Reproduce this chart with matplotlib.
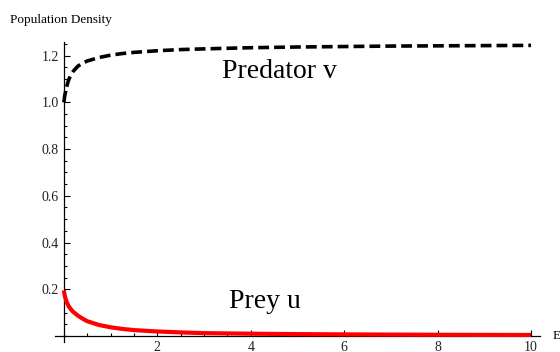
import matplotlib
matplotlib.use("Agg")
import matplotlib.pyplot as plt
from matplotlib.ticker import MultipleLocator, FixedLocator

# values
time = [0, 0.02, 0.05, 0.1, 0.15, 0.2, 0.3, 0.4, 0.5, 0.75, 1.0, 1.25, 1.5, 2.0, 2.5,
        3.0, 4.0, 5.0, 6.0, 7.0, 8.0, 9.0, 10.0]
prey_u = [0.195, 0.172, 0.150, 0.128, 0.114, 0.103, 0.087, 0.074, 0.063, 0.047, 0.037,
          0.030, 0.025, 0.019, 0.015, 0.012, 0.0095, 0.0078, 0.0066, 0.0057, 0.0050,
          0.0045, 0.0041]
predator_v = [1.0, 1.03, 1.06, 1.095, 1.118, 1.133, 1.155, 1.168, 1.177, 1.192, 1.202,
              1.209, 1.214, 1.221, 1.226, 1.229, 1.234, 1.237, 1.239, 1.241, 1.242,
              1.243, 1.244]

y_ticks = [0.2, 0.4, 0.6, 0.8, 1.0, 1.2]
x_ticks = [2, 4, 6, 8, 10]

plt.rcParams["font.family"] = ["Liberation Serif", "DejaVu Serif"]

fig = plt.figure(figsize=(5.6, 3.52), dpi=100)
ax = fig.add_axes([0.0982, 0.0284, 0.866, 0.852])

ax.plot(time, prey_u, color="#ff0000", lw=3.0, solid_capstyle="butt", zorder=3)
ax.plot(time, predator_v, color="black", lw=2.6, dashes=(3.0, 1.4), zorder=3)

ax.set_xlim(-0.19, 10.19)
ax.set_ylim(-0.026, 1.258)

for side in ("top", "right"):
    ax.spines[side].set_visible(False)
ax.spines["left"].set_position(("data", 0))
ax.spines["bottom"].set_position(("data", 0))
for side in ("left", "bottom"):
    ax.spines[side].set_linewidth(0.9)

ax.xaxis.set_major_locator(FixedLocator(x_ticks))
ax.yaxis.set_major_locator(FixedLocator(y_ticks))
ax.xaxis.set_minor_locator(MultipleLocator(0.5))
ax.yaxis.set_minor_locator(MultipleLocator(0.05))
ax.set_yticklabels([f"{v:.1f}" for v in y_ticks])
ax.tick_params(which="both", direction="in", color="black", width=0.8, labelsize=10,
               labelcolor="#222222")
ax.tick_params(which="major", length=4)
ax.tick_params(which="minor", length=2.2)
ax.tick_params(axis="x", pad=4)

ax.text(3.38, 1.13, "Predator v", fontsize=20, va="center", ha="left")
ax.text(3.53, 0.146, "Prey u", fontsize=20, va="center", ha="left")

fig.text(0.018, 0.943, "Population Density", fontsize=9.5, va="center", ha="left")
fig.text(0.987, 0.046, "E", fontsize=9.5, va="center", ha="left")

fig.savefig("out.png", dpi=100)
